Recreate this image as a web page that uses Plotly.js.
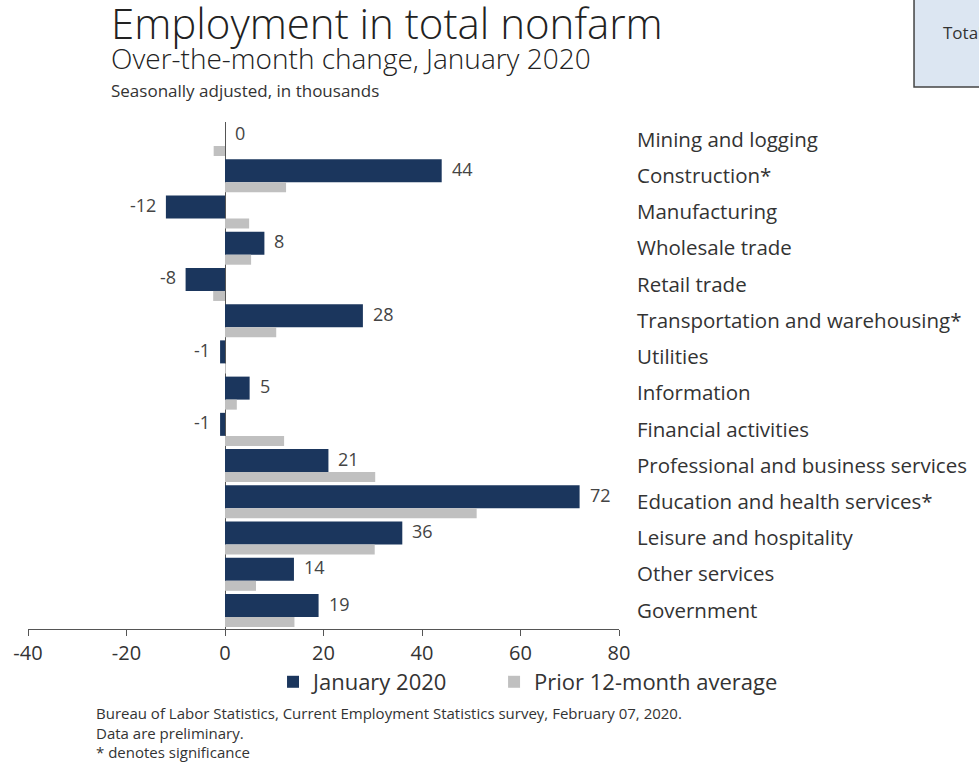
<!DOCTYPE html>
<html>
<head>
<meta charset="utf-8">
<script src="https://cdn.plot.ly/plotly-3.0.1.min.js"></script>
<style>html,body{margin:0;padding:0;overflow:hidden;background:#fff}#chart{width:979px;height:762px}</style>
</head>
<body>
<div id="chart"></div>
<script>
// ---- data ----
const categories = [
  "Mining and logging", "Construction*", "Manufacturing", "Wholesale trade",
  "Retail trade", "Transportation and warehousing*", "Utilities", "Information",
  "Financial activities", "Professional and business services",
  "Education and health services*", "Leisure and hospitality", "Other services", "Government"
];
const january2020 = [0, 44, -12, 8, -8, 28, -1, 5, -1, 21, 72, 36, 14, 19];
const prior12MonthAvg = [-2.3, 12.4, 4.9, 5.3, -2.4, 10.4, 0.2, 2.4, 12.0, 30.5, 51.1, 30.4, 6.3, 14.1];
const xTickValues = [-40, -20, 0, 20, 40, 60, 80];
const seriesNames = ["January 2020", "Prior 12-month average"];
const footerLines = [
  "Bureau of Labor Statistics, Current Employment Statistics survey, February 07, 2020.",
  "Data are preliminary.",
  "* denotes significance"
];

const FONT = "'Open Sans', 'DejaVu Sans', sans-serif";
const DARK = "#1b365d";
const GRAY = "#c0c0c0";

const traces = [
  {
    type: "bar", orientation: "h", name: seriesNames[0],
    x: january2020, y: categories,
    width: 0.635, offset: -0.456,
    marker: { color: DARK, line: { width: 0 } },
    hoverinfo: "none", legend: "legend"
  },
  {
    type: "bar", orientation: "h", name: seriesNames[1],
    x: prior12MonthAvg, y: categories,
    width: 0.276, offset: 0.18,
    marker: { color: GRAY, line: { width: 0 } },
    hoverinfo: "none", legend: "legend2"
  }
];

const annotations = [];
january2020.forEach((v, i) => {
  annotations.push({
    x: v, y: categories[i], xref: "x", yref: "y",
    text: String(v), showarrow: false,
    xanchor: v >= 0 ? "left" : "right",
    xshift: v >= 0 ? 8 : -8, yshift: 7,
    font: { family: FONT, size: 18, color: "#444" }
  });
});
// titles
annotations.push({ xref: "paper", yref: "paper", x: 0.1371, y: 1.1958, xanchor: "left", yanchor: "middle",
  text: "Employment in total nonfarm", showarrow: false, font: { family: FONT, size: 42, color: "#222", weight: 300 } });
annotations.push({ xref: "paper", yref: "paper", x: 0.1371, y: 1.1264, xanchor: "left", yanchor: "middle",
  text: "Over-the-month change, January 2020", showarrow: false, font: { family: FONT, size: 28, color: "#222", weight: 300 } });
annotations.push({ xref: "paper", yref: "paper", x: 0.1371, y: 1.0623, xanchor: "left", yanchor: "middle",
  text: "Seasonally adjusted, in thousands", showarrow: false, font: { family: FONT, size: 17, color: "#333" } });
// footer (one block, three lines)
annotations.push({ xref: "paper", yref: "paper", x: 0.1117, y: -0.2032, xanchor: "left", yanchor: "middle", align: "left",
  text: footerLines.join("<br>"), showarrow: false, font: { family: FONT, size: 15, color: "#333" } });
// top-right box text
annotations.push({ xref: "paper", yref: "paper", x: 1.5448, y: 1.1775, xanchor: "left", yanchor: "middle",
  text: "Total nonfarm", showarrow: false, font: { family: FONT, size: 17, color: "#333" } });

const legendFont = { family: FONT, size: 22, color: "#333" };
const layout = {
  width: 979, height: 762,
  margin: { l: 28, r: 360, t: 122, b: 133 },
  paper_bgcolor: "#fff", plot_bgcolor: "#fff",
  font: { family: FONT, color: "#333", size: 19 },
  barmode: "overlay",
  showlegend: true,
  legend: {
    orientation: "h", x: 0.4146, y: -0.1045, xanchor: "left", yanchor: "middle",
    font: legendFont, bgcolor: "rgba(0,0,0,0)"
  },
  legend2: {
    orientation: "h", x: 0.7886, y: -0.1045, xanchor: "left", yanchor: "middle",
    font: legendFont, bgcolor: "rgba(0,0,0,0)"
  },
  xaxis: {
    range: [-40, 80], tickvals: xTickValues, ticktext: xTickValues.map(String),
    ticks: "outside", ticklen: 6, tickcolor: "#555", tickwidth: 1,
    showline: true, linecolor: "#555", linewidth: 1,
    zeroline: true, zerolinecolor: "#555", zerolinewidth: 1,
    showgrid: false, fixedrange: true,
    tickfont: { family: FONT, size: 20, color: "#333" }
  },
  yaxis: {
    type: "category", categoryorder: "array", categoryarray: categories,
    range: [13.51, -0.483], side: "right",
    ticks: "", showline: false, showgrid: false, zeroline: false,
    ticklabelstandoff: 17,
    tickfont: { family: FONT, size: 20.5, color: "#333" }, fixedrange: true
  },
  annotations: annotations,
  shapes: [{
    type: "rect", xref: "paper", yref: "paper",
    x0: 1.4992, x1: 1.64, y0: 1.069, y1: 1.26,
    fillcolor: "#dce6f2", line: { color: "#444", width: 1.5 }, layer: "below"
  }]
};

Plotly.newPlot("chart", traces, layout, { staticPlot: true, displayModeBar: false });
</script>
</body>
</html>
